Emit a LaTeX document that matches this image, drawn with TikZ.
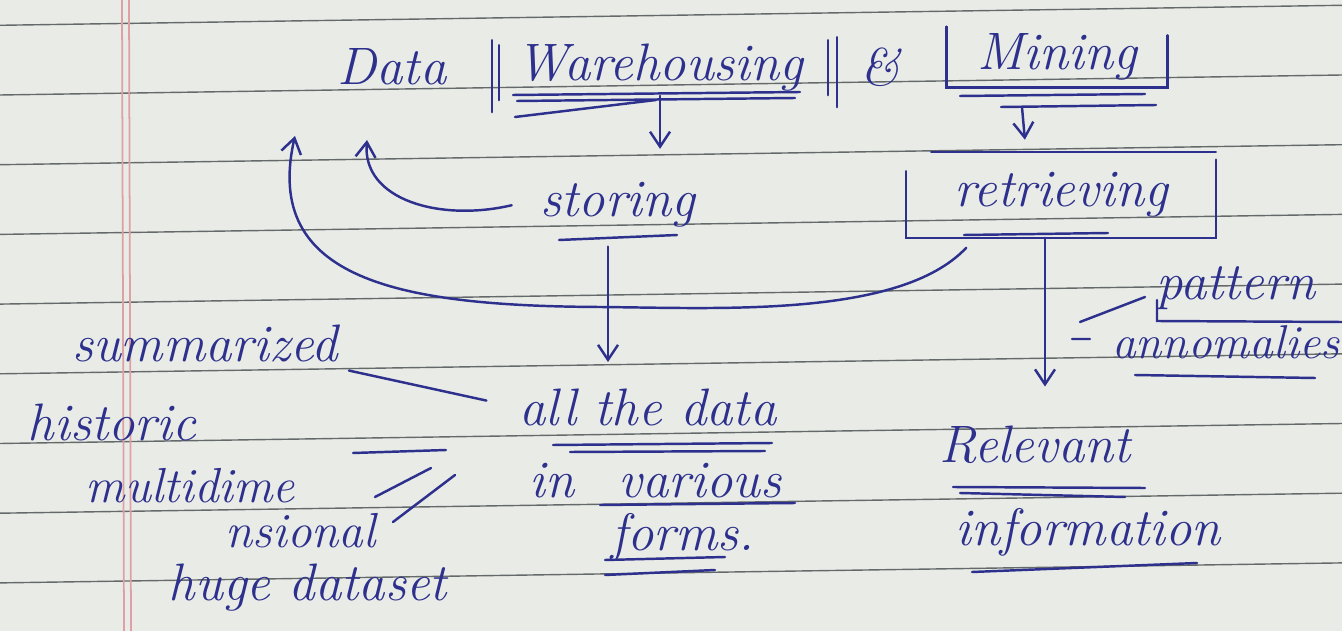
\documentclass[tikz,border=0pt]{standalone}
\usetikzlibrary{arrows.meta}
\definecolor{ink}{RGB}{45,48,140}
\definecolor{paper}{RGB}{233,236,230}
\definecolor{ruling}{RGB}{100,105,105}
\definecolor{margin}{RGB}{222,160,165}
\begin{document}
\begin{tikzpicture}[x=0.02cm,y=-0.02cm,hand/.style={text=ink,font=\fontsize{30}{34}\selectfont\itshape,inner sep=2pt,anchor=base},boxed/.style={hand,anchor=center},pen/.style={draw=ink,line width=1.4pt,line cap=round},arrow/.style={pen,-{Straight Barb[length=3mm,width=4mm]}}]
\fill[paper] (0,0) rectangle (1342,631);
\useasboundingbox (0,0) rectangle (1342,631);
\foreach \k in {0,...,9} \draw[ruling,line width=0.8pt] (0,25.3+69.7*\k) -- (1342,5.3+69.7*\k);
\draw[margin,line width=1pt] (122,0) -- (124,631) (129,0) -- (131,631);
\node[hand] (data) at (392,85) {Data};
\node[boxed,minimum width=6.7cm,minimum height=1.1cm] (ware) at (660,68) {Warehousing};
\node[hand] (amp) at (880,86) {\&};
\node[boxed,minimum width=4.4cm,minimum height=1.2cm] (mine) at (1057,57) {Mining};
\node[hand] (stor) at (618,217) {storing};
\node[boxed,minimum width=6.18cm,minimum height=1.7cm] (retr) at (1061,195) {retrieving};
\node[hand] (summ) at (205,362) {summarized};
\node[hand] (hist) at (112,440) {historic};
\node[hand,anchor=north west,align=left,font=\fontsize{28}{18}\selectfont\itshape] (mult) at (82,464) {multidime\\[5pt]\hspace*{2.8cm}nsional};
\node[hand] (huge) at (308,600) {huge dataset};
\node[hand] (all1) at (648,425) {all the data};
\node[hand] (in2) at (552,497) {in};
\node[hand] (vari) at (700,497) {various};
\node[hand] (form) at (683,550) {forms.};
\node[hand] (pat) at (1236,300) {pattern};
\node[hand,font=\fontsize{27}{30}\selectfont\itshape] (ann) at (1226,358) {annomalies};
\node[hand] (rel) at (1035,462) {Relevant};
\node[hand] (info) at (1088,545) {information};
\coordinate (tipS) at (367,140);
\coordinate (tipL) at (295,136);
\draw[pen] (ware.north west) -- ++(0,72) (ware.north west) ++(7,5) -- ++(0,55);
\draw[pen] (ware.north east) -- ++(0,55) (ware.north east) ++(9,-3) -- ++(0,70);
\draw[pen] (ware.center) ++(-147,27) -- ++(287,-3) (ware.center) ++(-143,33) -- ++(278,-3) (ware.center) ++(-145,49) -- ++(141,-17);
\draw[pen] (mine.north west) -- (mine.south west) -- (mine.south east) -- ++(0,-52);
\draw[pen] (mine.center) ++(-97,39) -- ++(185,-2) (mine.center) ++(-56,50) -- ++(155,-2);
\draw[pen] ([xshift=0.5cm]retr.north west) -- (retr.north east);
\draw[pen] ([yshift=-0.38cm]retr.north west) -- (retr.south west) -- (retr.south east) -- ([yshift=-0.15cm]retr.north east);
\draw[pen] (retr.center) ++(-97,40) -- ++(144,-2);
\draw[pen] (stor.base) ++(-59,23) -- ++(118,-5);
\draw[pen] (all1.base) ++(-95,20) -- ++(219,-2) (all1.base) ++(-78,27) -- ++(195,-1);
\draw[pen] (vari.base) ++(-100,8) -- ++(195,-2);
\draw[pen] (form.base) ++(-78,10) -- ++(120,-3) (form.base) ++(-78,25) -- ++(110,-5);
\draw[pen] (pat.base) ++(-79,0) -- ++(0,21) -- ++(185,1);
\draw[pen] (ann.base) ++(-91,17) -- ++(180,3) (ann.base) ++(-154,-19) -- ++(18,0);
\draw[pen] (pat.base) ++(-156,22) -- ++(65,-25);
\draw[pen] (rel.base) ++(-82,25) -- ++(192,1) (rel.base) ++(-75,31) -- ++(165,4);
\draw[pen] (info.base) ++(-116,27) -- ++(225,-9);
\draw[pen,shorten <=0.15cm,shorten >=0.6cm] ([yshift=-0.5cm]summ.east) -- (all1.west);
\draw[pen] (hist.base) ++(241,13) -- ++(93,-3);
\draw[pen] (mult.north west) ++(293,33) -- ++(56,-29);
\draw[pen] (mult.north west) ++(311,58) -- ++(62,-47);
\draw[arrow,shorten >=0.6cm] (ware.south) -- (ware.south |- stor.north);
\draw[arrow,shorten >=0.25cm] ([xshift=-0.7cm,yshift=-0.4cm]mine.south) -- ([xshift=-0.7cm]retr.north);
\draw[arrow,shorten <=0.3cm,shorten >=0.45cm] ([xshift=-0.2cm]stor.south) -- ([xshift=-0.2cm]stor.south |- all1.north);
\draw[arrow,shorten >=0.7cm] ([xshift=-0.32cm]retr.south) -- ([xshift=-0.32cm]retr.south |- rel.north);
\draw[arrow] ([xshift=-0.5cm]stor.west) .. controls (440,222) and (362,200) .. (tipS);
\draw[arrow] ([xshift=1.2cm,yshift=-0.2cm]retr.south west) .. controls (900,318) and (720,308) .. (600,307) .. controls (400,306) and (262,280) .. (tipL);
\end{tikzpicture}
\end{document}
